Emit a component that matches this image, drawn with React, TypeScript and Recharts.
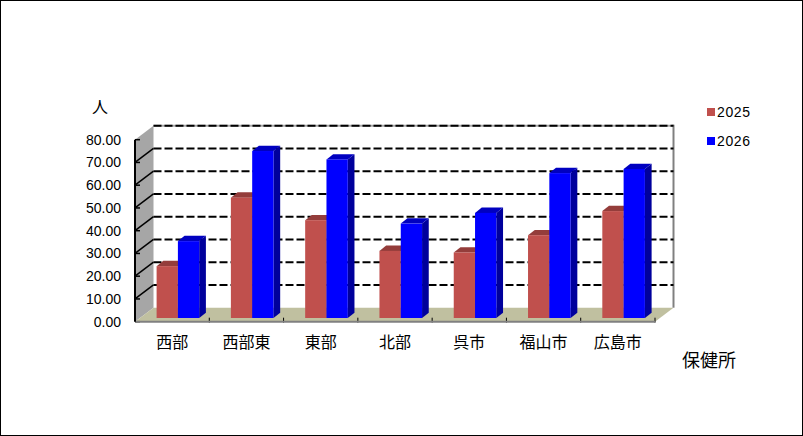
import React from "react";
import { BarChart, Bar, XAxis, YAxis, CartesianGrid, Legend, usePlotArea } from "recharts";

const categories = ["西部", "西部東", "東部", "北部", "呉市", "福山市", "広島市"];
const values2025 = [22.8, 52.9, 43.0, 29.5, 28.8, 36.4, 47.0];
const values2026 = [33.8, 73.4, 69.7, 41.5, 46.2, 63.7, 65.5];
const yTicks = [0, 10, 20, 30, 40, 50, 60, 70, 80];

const data = categories.map((name, i) => ({ name, y2025: values2025[i], y2026: values2026[i] }));

// depth of the fake 3d box and of each bar
const DX = 18.5;
const DY = 14;
const BAR_DX = 6.7;
const BAR_DY = 5.3;
const BAR_SHIFT_X = 5.6;
const BAR_SHIFT_Y = 3.7;

const font = '"Liberation Sans", "Noto Sans CJK JP", sans-serif';

function Walls() {
  const plot = usePlotArea();
  if (!plot) return null;
  const { x, y, width, height } = plot;
  const bottom = y + height;
  const right = x + width;
  return (
    <g>
      <polygon
        points={`${x},${y} ${x + DX},${y - DY} ${x + DX},${bottom - DY} ${x},${bottom}`}
        fill="#a6a6a6"
      />
      <polygon
        points={`${x},${bottom} ${x + DX},${bottom - DY} ${right + DX},${bottom - DY} ${right},${bottom}`}
        fill="#c0c0a0"
      />
      <line x1={x + DX} y1={y - DY} x2={right + DX} y2={y - DY} stroke="#a6a6a6" strokeWidth={2} />
      <line x1={right + DX} y1={y - DY - 1} x2={right + DX} y2={bottom - DY} stroke="#808080" strokeWidth={2} />
    </g>
  );
}

function CategoryTicks() {
  const plot = usePlotArea();
  if (!plot) return null;
  const bottom = plot.y + plot.height;
  return (
    <g>
      {categories.map((c, i) => {
        const tx = plot.x + (plot.width * (i + 1)) / categories.length;
        return <line key={c} x1={tx} y1={bottom - 4} x2={tx} y2={bottom + 1} stroke="#000" strokeWidth={1} />;
      })}
    </g>
  );
}

// grid layer sits under plain children, so the walls are drawn from the first grid line
function gridLine(props: any) {
  const { x1, x2, y1, index } = props;
  const isFloor = y1 > 300;
  const isTop = y1 < 145;
  return (
    <g key={props.key ?? index}>
      {index === 0 && <Walls />}
      {!isFloor && (
        <line x1={x1 + DX} y1={y1 - DY} x2={x2 + DX} y2={y1 - DY} stroke="#000" strokeWidth={2} strokeDasharray="8 3" />
      )}
      {!isFloor && !isTop && (
        <line x1={x1} y1={y1} x2={x1 + DX} y2={y1 - DY} stroke="#000" strokeWidth={1.5} />
      )}
      <line x1={x1} y1={y1} x2={x1 + 5} y2={y1} stroke="#000" strokeWidth={1.5} />
    </g>
  );
}

function box3d(topColor: string, sideColor: string) {
  return (props: any) => {
    const { width, height, fill } = props;
    const x = props.x + BAR_SHIFT_X;
    const y = props.y - BAR_SHIFT_Y;
    const r = x + width;
    const b = y + height;
    return (
      <g>
        <polygon points={`${r},${y} ${r + BAR_DX},${y - BAR_DY} ${r + BAR_DX},${b - BAR_DY} ${r},${b}`} fill={sideColor} />
        <polygon points={`${x},${y} ${x + BAR_DX},${y - BAR_DY} ${r + BAR_DX},${y - BAR_DY} ${r},${y}`} fill={topColor} />
        <rect x={x} y={y} width={width} height={height} fill={fill} />
      </g>
    );
  };
}

function LegendBox({ payload }: any) {
  return (
    <div>
      {(payload || []).map((p: any) => (
        <div key={p.value} style={{ display: "flex", alignItems: "center", height: 29, fontSize: 14, fontFamily: font, letterSpacing: 0.6 }}>
          <span style={{ width: 8, height: 8, background: p.color, marginRight: 2 }} />
          {p.value}
        </div>
      ))}
    </div>
  );
}

export default function App() {
  return (
    <div style={{ position: "absolute", left: 0, top: 0, width: 803, height: 436, background: "#fff", boxShadow: "inset 0 0 0 1px #000" }}>
      <BarChart
        width={803}
        height={436}
        data={data}
        margin={{ top: 139.7, right: 148, bottom: 0, left: 0 }}
        barSize={21.3}
        barGap={0}
      >
        <CartesianGrid vertical={false} horizontal={gridLine} />
        <XAxis
          dataKey="name"
          height={114.3}
          tickSize={0}
          tickMargin={15}
          axisLine={{ stroke: "#808080", strokeWidth: 2 }}
          tick={{ fontSize: 16, fill: "#000", fontFamily: font }}
          interval={0}
        />
        <YAxis
          width={135}
          domain={[0, 80]}
          ticks={yTicks}
          interval={0}
          tickSize={0}
          tickMargin={14}
          tickFormatter={(v: number) => v.toFixed(2)}
          axisLine={{ stroke: "#000", strokeWidth: 2 }}
          tick={{ fontSize: 14, fill: "#000", fontFamily: font }}
        />
        <CategoryTicks />
        <Legend
          layout="vertical"
          align="center"
          verticalAlign="middle"
          content={LegendBox}
          wrapperStyle={{ left: 707, top: 97, width: 80 }}
        />
        <Bar dataKey="y2025" name="2025" fill="#c0504d" shape={box3d("#943d3b", "#943d3b")} isAnimationActive={false} />
        <Bar dataKey="y2026" name="2026" fill="#0000ff" shape={box3d("#0000c0", "#00009c")} isAnimationActive={false} />
        <text x={100} y={113} textAnchor="middle" fontSize={16} fontFamily={font}>人</text>
        <text x={709} y={367} textAnchor="middle" fontSize={18} fontFamily={font}>保健所</text>
      </BarChart>
    </div>
  );
}
